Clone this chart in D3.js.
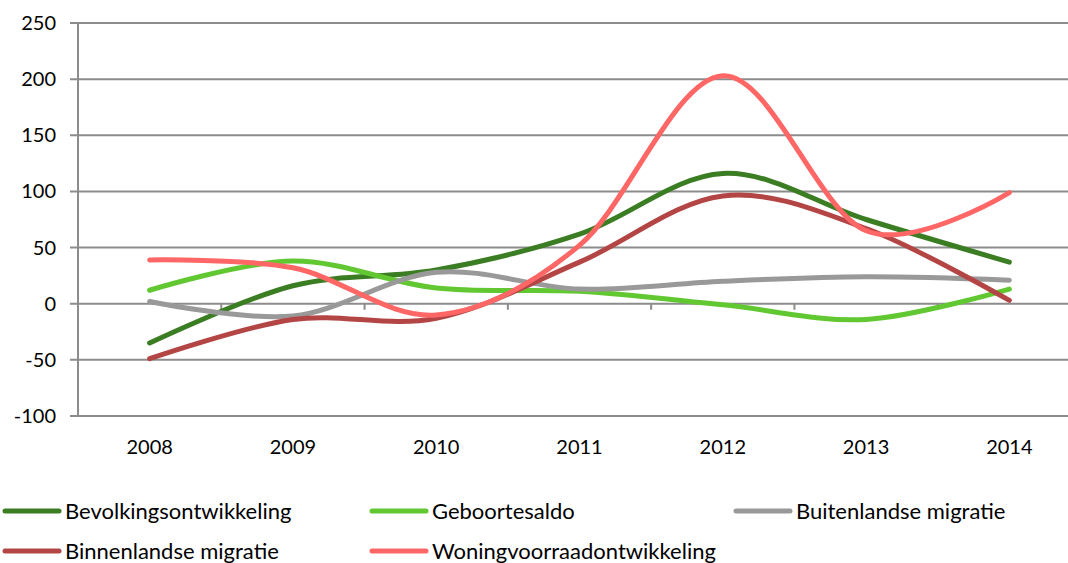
<!DOCTYPE html>
<html>
<head>
<meta charset="utf-8">
<script src="https://cdn.jsdelivr.net/npm/d3@7"></script>
<style>
  body { margin: 0; background: #fff; }
  text { font-family: Lato, "Open Sans", sans-serif; fill: #000; }
</style>
</head>
<body>
<div id="chart"></div>
<script>
var years = ["2008", "2009", "2010", "2011", "2012", "2013", "2014"];
var yTicks = [-100, -50, 0, 50, 100, 150, 200, 250];

var bevolking = [-35, 16, 30, 62, 116, 75, 37];
var geboorte = [12, 38, 14, 11, -1, -14, 13];
var buitenland = [2, -11, 28, 13, 20, 24, 21];
var binnenland = [-49, -14, -13, 37, 96, 67, 3];
var woningen = [39, 32, -10, 52, 203, 65, 99];

var seriesNames = ["Bevolkingsontwikkeling", "Geboortesaldo", "Buitenlandse migratie",
                   "Binnenlandse migratie", "Woningvoorraadontwikkeling"];
var seriesColors = ["#3b7d23", "#62c832", "#999999", "#b44545", "#ff6666"];
var seriesValues = [bevolking, geboorte, buitenland, binnenland, woningen];

var width = 1068, height = 563;
var plotLeft = 78, plotRight = 1081, plotTop = 23, plotBottom = 416;

var svg = d3.select("#chart").append("svg")
    .attr("width", width)
    .attr("height", height);

var x = d3.scaleBand().domain(years).range([plotLeft, plotRight]).padding(0);
var y = d3.scaleLinear().domain([-100, 250]).range([plotBottom, plotTop]);

// gridlines
svg.append("g")
    .selectAll("line")
    .data(yTicks)
    .enter().append("line")
    .attr("x1", plotLeft - 8)
    .attr("x2", plotRight)
    .attr("y1", function(d) { return y(d); })
    .attr("y2", function(d) { return y(d); })
    .attr("stroke", "#8c8c8c")
    .attr("stroke-width", 2);

// vertical axis
svg.append("line")
    .attr("x1", plotLeft).attr("x2", plotLeft)
    .attr("y1", plotTop).attr("y2", plotBottom)
    .attr("stroke", "#8c8c8c")
    .attr("stroke-width", 2);

// tick marks on the zero line
svg.append("g")
    .selectAll("line")
    .data(years.slice(1))
    .enter().append("line")
    .attr("x1", function(d) { return x(d); })
    .attr("x2", function(d) { return x(d); })
    .attr("y1", y(0))
    .attr("y2", y(0) + 6)
    .attr("stroke", "#8c8c8c")
    .attr("stroke-width", 2);

// y labels
svg.append("g")
    .selectAll("text")
    .data(yTicks)
    .enter().append("text")
    .attr("x", 56)
    .attr("y", function(d) { return y(d); })
    .attr("dy", "0.35em")
    .attr("text-anchor", "end")
    .style("font-size", "20px")
    .text(function(d) { return d; });

// x labels
svg.append("g")
    .selectAll("text")
    .data(years)
    .enter().append("text")
    .attr("x", function(d) { return x(d) + x.bandwidth() / 2; })
    .attr("y", 447)
    .attr("dy", "0.35em")
    .attr("text-anchor", "middle")
    .style("font-size", "20px")
    .text(function(d) { return d; });

var line = d3.line()
    .x(function(d, i) { return x(years[i]) + x.bandwidth() / 2; })
    .y(function(d) { return y(d); })
    .curve(d3.curveCardinal.tension(0));

svg.append("g")
    .selectAll("path")
    .data(seriesValues)
    .enter().append("path")
    .attr("d", line)
    .attr("fill", "none")
    .attr("stroke", function(d, i) { return seriesColors[i]; })
    .attr("stroke-width", 5)
    .attr("stroke-linecap", "round");

// legend
var legendPos = [
  { lx: 5, tx: 65, ty: 511 },
  { lx: 372, tx: 432, ty: 511 },
  { lx: 736, tx: 796, ty: 511 },
  { lx: 5, tx: 65, ty: 551 },
  { lx: 372, tx: 432, ty: 551 }
];

var legend = svg.append("g")
    .selectAll("g")
    .data(seriesNames)
    .enter().append("g");

legend.append("line")
    .attr("x1", function(d, i) { return legendPos[i].lx; })
    .attr("x2", function(d, i) { return legendPos[i].lx + 54; })
    .attr("y1", function(d, i) { return legendPos[i].ty; })
    .attr("y2", function(d, i) { return legendPos[i].ty; })
    .attr("stroke", function(d, i) { return seriesColors[i]; })
    .attr("stroke-width", 5)
    .attr("stroke-linecap", "round");

legend.append("text")
    .attr("x", function(d, i) { return legendPos[i].tx; })
    .attr("y", function(d, i) { return legendPos[i].ty; })
    .attr("dy", "0.35em")
    .style("font-size", "22px")
    .text(function(d) { return d; });
</script>
</body>
</html>
